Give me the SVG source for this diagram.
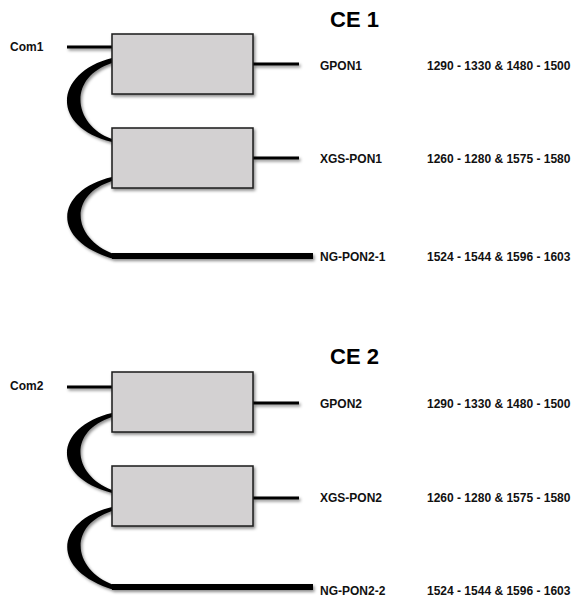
<svg xmlns="http://www.w3.org/2000/svg" width="573" height="599" viewBox="0 0 573 599">
<defs>
<filter id="sh" x="-20%" y="-20%" width="140%" height="160%">
<feDropShadow dx="1.5" dy="2" stdDeviation="1.4" flood-color="#000" flood-opacity="0.45"/>
</filter>
</defs>
<style>
.box{fill:#d3d1d2;stroke:#1a1a1a;stroke-width:1.5}
.ln{stroke:#000;stroke-width:3;fill:none}
.thick{stroke:#000;stroke-width:6;fill:none}
.fib{fill:#000;stroke:none}
.t{font-family:"Liberation Sans",Arial,sans-serif;font-size:12px;font-weight:bold;fill:#111}
.h{font-family:"Liberation Sans",Arial,sans-serif;font-size:22px;font-weight:bold;fill:#000}
</style>
<rect width="573" height="599" fill="#fff"/>
<g id="connectors" filter="url(#sh)">
<line class="ln" x1="67" y1="47" x2="112" y2="47"/>
<line class="ln" x1="253" y1="64" x2="299" y2="64"/>
<line class="ln" x1="253" y1="158" x2="299" y2="158"/>
<line class="thick" x1="112" y1="256" x2="313" y2="256"/>
<path class="fib" d="M112,58 C56,72 48,126 112,142 L112,139 C74,126 66,78 112,63 Z"/>
<path class="fib" d="M112,177 C56,190 48,240 114,259 L114,254 C74,240 66,196 112,181 Z"/>
<line class="ln" x1="67" y1="387" x2="112" y2="387"/>
<line class="ln" x1="253" y1="403" x2="299" y2="403"/>
<line class="ln" x1="253" y1="498" x2="299" y2="498"/>
<line class="thick" x1="112" y1="587" x2="313" y2="587"/>
<path class="fib" d="M112,413 C56,426 48,476 112,493 L112,490 C74,476 66,432 112,417 Z"/>
<path class="fib" d="M112,507 C56,520 48,570 114,590 L114,585 C74,571 66,526 112,511 Z"/>
</g>
<g id="ce1-box1" filter="url(#sh)"><rect class="box" x="112" y="34" width="141" height="60"/></g>
<g id="ce1-box2" filter="url(#sh)"><rect class="box" x="112" y="128" width="141" height="60"/></g>
<g id="ce2-box1" filter="url(#sh)"><rect class="box" x="112" y="372" width="141" height="60"/></g>
<g id="ce2-box2" filter="url(#sh)"><rect class="box" x="112" y="466" width="141" height="60"/></g>
<g id="labels">
<text class="h" x="330" y="27">CE 1</text>
<text class="t" x="10" y="51">Com1</text>
<text class="t" x="320" y="70">GPON1</text>
<text class="t" x="427" y="70">1290 - 1330 &amp; 1480 - 1500</text>
<text class="t" x="320" y="163">XGS-PON1</text>
<text class="t" x="427" y="163">1260 - 1280 &amp; 1575 - 1580</text>
<text class="t" x="320" y="261">NG-PON2-1</text>
<text class="t" x="427" y="261">1524 - 1544 &amp; 1596 - 1603</text>
<text class="h" x="330" y="364">CE 2</text>
<text class="t" x="10" y="390">Com2</text>
<text class="t" x="320" y="408">GPON2</text>
<text class="t" x="427" y="408">1290 - 1330 &amp; 1480 - 1500</text>
<text class="t" x="320" y="502">XGS-PON2</text>
<text class="t" x="427" y="502">1260 - 1280 &amp; 1575 - 1580</text>
<text class="t" x="320" y="595">NG-PON2-2</text>
<text class="t" x="427" y="595">1524 - 1544 &amp; 1596 - 1603</text>
</g>
</svg>
